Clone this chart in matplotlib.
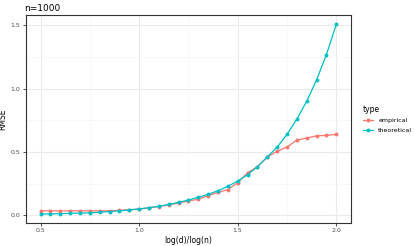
import matplotlib
matplotlib.use("Agg")
import matplotlib.pyplot as plt

# x grid: log(d)/log(n)
ratio = [0.50, 0.55, 0.60, 0.65, 0.70, 0.75, 0.80, 0.85, 0.90, 0.95,
         1.00, 1.05, 1.10, 1.15, 1.20, 1.25, 1.30, 1.35, 1.40, 1.45,
         1.50, 1.55, 1.60, 1.65, 1.70, 1.75, 1.80, 1.85, 1.90, 1.95, 2.00]
empirical = [0.035, 0.035, 0.035, 0.035, 0.035, 0.035, 0.035, 0.036, 0.039, 0.043,
             0.049, 0.058, 0.069, 0.082, 0.097, 0.113, 0.126, 0.155, 0.181, 0.202,
             0.257, 0.336, 0.383, 0.460, 0.506, 0.538, 0.593, 0.609, 0.627, 0.630,
             0.638]
theoretical = [0.010, 0.011, 0.013, 0.015, 0.017, 0.020, 0.024, 0.029, 0.035, 0.042,
               0.050, 0.060, 0.071, 0.085, 0.102, 0.120, 0.142, 0.165, 0.194, 0.228,
               0.270, 0.320, 0.383, 0.460, 0.538, 0.638, 0.758, 0.900, 1.068, 1.268,
               1.506]

series = {"empirical": (empirical, "#F8766D"), "theoretical": (theoretical, "#00BFC4")}

fig = plt.figure(figsize=(4.15, 2.46), dpi=100)
ax = fig.add_axes([0.062, 0.094, 0.784, 0.845])

for name, (vals, col) in series.items():
    ax.plot(ratio, vals, color=col, lw=0.9, marker="o", ms=2.8, mew=0, label=name)

ax.set_xlim(0.425, 2.075)
ax.set_ylim(-0.06, 1.58)
ax.set_xticks([0.5, 1.0, 1.5, 2.0])
ax.set_yticks([0.0, 0.5, 1.0, 1.5])
ax.set_xticks([0.75, 1.25, 1.75], minor=True)
ax.set_yticks([0.25, 0.75, 1.25], minor=True)
ax.grid(True, which="major", color="#EBEBEB", lw=0.8)
ax.grid(True, which="minor", color="#F5F5F5", lw=0.5)
ax.set_axisbelow(True)
for s in ax.spines.values():
    s.set_color("#333333")
    s.set_linewidth(0.8)
ax.tick_params(which="major", length=2, width=0.6, color="#333333",
               labelsize=4.5, labelcolor="#4D4D4D", pad=2)
ax.tick_params(which="minor", length=0)
ax.set_xlabel("log(d)/log(n)", fontsize=5.5, labelpad=2)
ax.set_ylabel("RMSE", fontsize=5.5, labelpad=2)
ax.set_title("n=1000", fontsize=6.5, loc="left", pad=3, x=-0.005)

leg = ax.legend(title="type", loc="center left", bbox_to_anchor=(1.02, 0.5),
                frameon=False, fontsize=4.5, title_fontsize=5.5,
                handlelength=1.6, handletextpad=0.8, labelspacing=0.7)
leg._legend_box.align = "left"

fig.savefig("out.png", dpi=100)
